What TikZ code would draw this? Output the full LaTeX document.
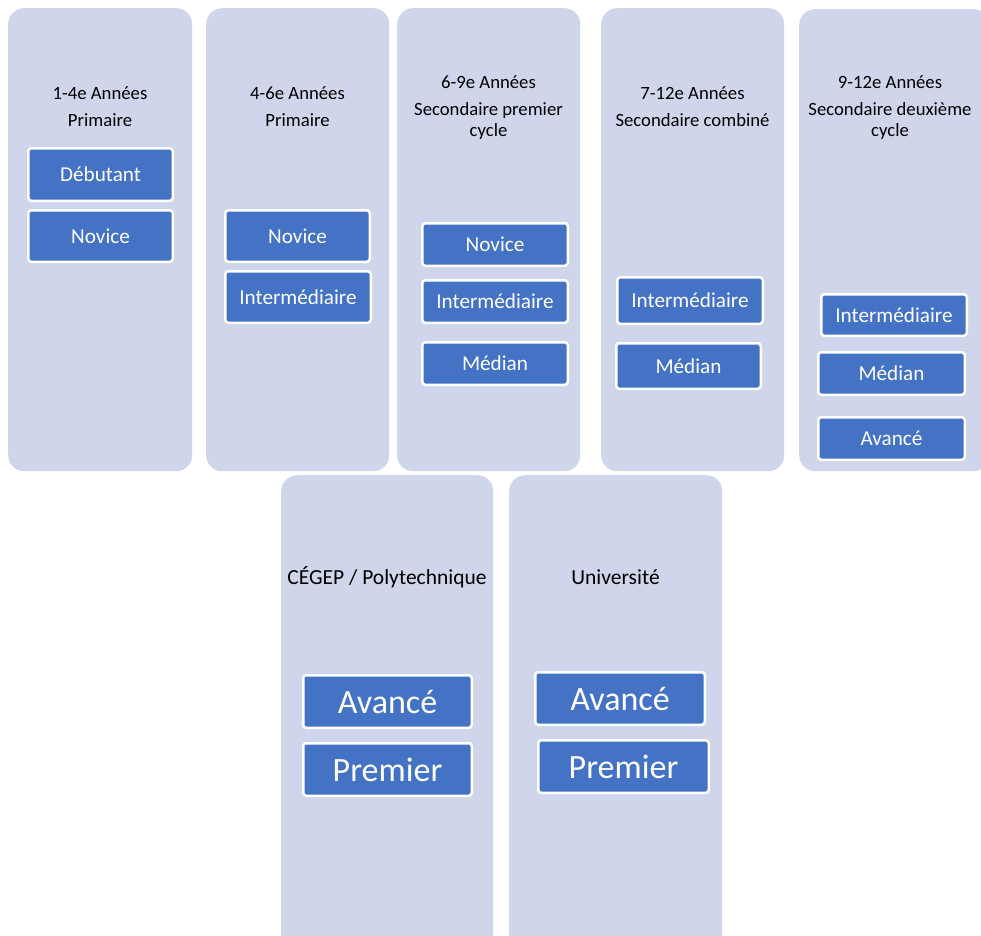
\documentclass[tikz,border=0pt]{standalone}
\usepackage{fontspec}
\setmainfont{Carlito}
\definecolor{panelfill}{HTML}{CFD5EA}
\definecolor{boxblue}{HTML}{4472C4}
\begin{document}
\begin{tikzpicture}[x=1pt,y=-1pt,
  panel/.style={fill=panelfill, draw=none, rounded corners=16pt, anchor=north west, inner sep=0pt},
  ptitle/.style={align=center, font=\fontsize{18.7}{21}\selectfont, text=black, inner sep=0pt},
  bigtitle/.style={ptitle, font=\fontsize{21.5}{24}\selectfont},
  lvl/.style={fill=boxblue, draw=white, line width=2.5pt, rounded corners=3pt, text=white,
    font=\fontsize{21.2}{24}\selectfont, inner sep=0pt},
  biglvl/.style={lvl, font=\fontsize{34}{38}\selectfont}]
\clip (0,0) rectangle (981,935);
\fill[white] (0,0) rectangle (981,935);
% panels
\node[panel, minimum width=184pt, minimum height=463pt] (p1) at (8,8) {};
\node[panel, minimum width=183pt, minimum height=463pt] (p2) at (206,8) {};
\node[panel, minimum width=183pt, minimum height=463pt] (p3) at (397,8) {};
\node[panel, minimum width=183pt, minimum height=463pt] (p4) at (601,8) {};
\node[panel, minimum width=190pt, minimum height=462pt] (p5) at (799,9) {};
\node[panel, minimum width=212pt, minimum height=480pt] (p6) at (281,475) {};
\node[panel, minimum width=213pt, minimum height=480pt] (p7) at (509,475) {};
% titles
\node[ptitle] (t1) at (100,106.5) {1-4e Années\\[6pt]Primaire};
\node[ptitle] (t2) at (297.5,106.5) {4-6e Années\\[6pt]Primaire};
\node[ptitle] (t3) at (488.5,108) {6-9e Années\\[6pt]Secondaire premier\\cycle};
\node[ptitle] (t4) at (692.5,106.5) {7-12e Années\\[6pt]Secondaire combiné};
\node[ptitle] (t5) at (890,108) {9-12e Années\\[6pt]Secondaire deuxième\\cycle};
\node[bigtitle] (t6) at (387,577) {CÉGEP / Polytechnique};
\node[bigtitle] (t7) at (615.5,577) {Université};
% level boxes
\node[lvl, minimum width=144.5pt, minimum height=52.5pt] (b11) at (100.5,174.5) {Débutant};
\node[lvl, minimum width=144.5pt, minimum height=51.5pt] (b12) at (100.5,236) {Novice};
\node[lvl, minimum width=144.5pt, minimum height=51.5pt] (b21) at (297.5,236) {Novice};
\node[lvl, minimum width=145.5pt, minimum height=51.5pt] (b22) at (298,297) {Intermédiaire};
\node[lvl, minimum width=145.5pt, minimum height=42.5pt] (b31) at (495,244.5) {Novice};
\node[lvl, minimum width=145.5pt, minimum height=42.5pt] (b32) at (495,301.5) {Intermédiaire};
\node[lvl, minimum width=145.5pt, minimum height=42.5pt] (b33) at (495,363.5) {Médian};
\node[lvl, minimum width=145.5pt, minimum height=46.5pt] (b41) at (690,300.5) {Intermédiaire};
\node[lvl, minimum width=144.5pt, minimum height=45.5pt] (b42) at (688.5,366) {Médian};
\node[lvl, minimum width=145.5pt, minimum height=41.5pt] (b51) at (894,315) {Intermédiaire};
\node[lvl, minimum width=146.5pt, minimum height=42.5pt] (b52) at (891.5,373.5) {Médian};
\node[lvl, minimum width=146.5pt, minimum height=42.5pt] (b53) at (891.5,438.5) {Avancé};
\node[biglvl, minimum width=168.5pt, minimum height=52.5pt] (b61) at (387.5,701.5) {Avancé};
\node[biglvl, minimum width=168.5pt, minimum height=52.5pt] (b62) at (387.5,769.5) {Premier};
\node[biglvl, minimum width=169.5pt, minimum height=52.5pt] (b71) at (620,698.5) {Avancé};
\node[biglvl, minimum width=170.5pt, minimum height=52.5pt] (b72) at (623.5,766.5) {Premier};
\end{tikzpicture}
\end{document}
